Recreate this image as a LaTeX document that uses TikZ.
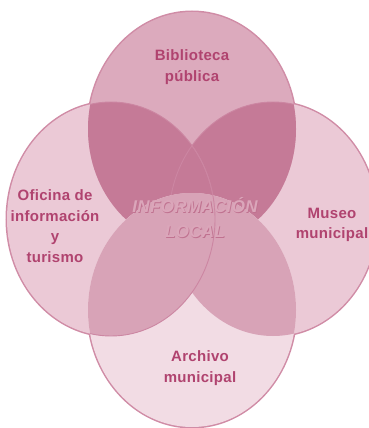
\documentclass[tikz,border=0pt]{standalone}
\usepackage{fontspec}
\setmainfont{Liberation Sans}[LetterSpace=2]
\definecolor{sidec}{HTML}{EBC9D6}
\definecolor{topc}{HTML}{DCAABD}
\definecolor{darkc}{HTML}{C57A97}
\definecolor{botc}{HTML}{F2DCE4}
\definecolor{medc}{HTML}{D8A3B7}
\definecolor{outc}{HTML}{D08CA6}
\definecolor{thinc}{HTML}{CC86A2}
\definecolor{txtc}{HTML}{B0436F}
\definecolor{infoc}{HTML}{DBA6BA}
\definecolor{infosh}{HTML}{C07290}
\def\Etop{(192,129) ellipse (104pt and 117pt)}
\def\Eleft{(111,219) ellipse (104pt and 117pt)}
\def\Eright{(273,219) ellipse (104pt and 117pt)}
\def\Ebot{(192,310) ellipse (104pt and 117pt)}
\tikzset{
  lbl/.style={text=txtc, font=\fontsize{15}{20.5}\selectfont\bfseries, align=center, inner sep=0pt},
  info/.style={font=\fontsize{17}{25}\selectfont\bfseries\itshape, align=center, inner sep=0pt},
}
\begin{document}
\begin{tikzpicture}[x=1pt,y=-1pt]
\useasboundingbox (0,0) rectangle (369,428);
\begin{scope}
\clip (0,0) rectangle (369,428);
% outer outlines
\draw[outc, line width=3pt] \Etop \Eleft \Eright \Ebot;
% side ellipses
\fill[sidec] \Eleft;
\fill[sidec] \Eright;
% top ellipse
\fill[topc] \Etop;
\begin{scope}
  \clip \Etop;
  \fill[darkc] \Eleft;
  \fill[darkc] \Eright;
  \draw[thinc, line width=0.9pt] \Eleft;
  \draw[thinc, line width=0.9pt] \Eright;
\end{scope}
% bottom ellipse
\fill[botc] \Ebot;
\begin{scope}
  \clip \Ebot;
  \fill[medc] \Eleft;
  \fill[medc] \Eright;
\end{scope}
\begin{scope}
  \clip \Eright \Ebot;
  \draw[thinc, line width=0.9pt] \Eleft;
\end{scope}
% texts
\node[lbl] (bib) at (192,67) {Biblioteca\\pública};
\node[lbl] (ofi) at (55,226) {Oficina de\\información\\y\\turismo};
\node[lbl] (mus) at (332,225) {Museo\\municipal};
\node[lbl] (arc) at (200,368) {Archivo\\municipal};
\node[info, text=infosh] (infs) at (195.8,218.8) {INFORMACIÓN\\LOCAL};
\node[info, text=infoc] (inf) at (195,218) {INFORMACIÓN\\LOCAL};
\end{scope}
\end{tikzpicture}
\end{document}
